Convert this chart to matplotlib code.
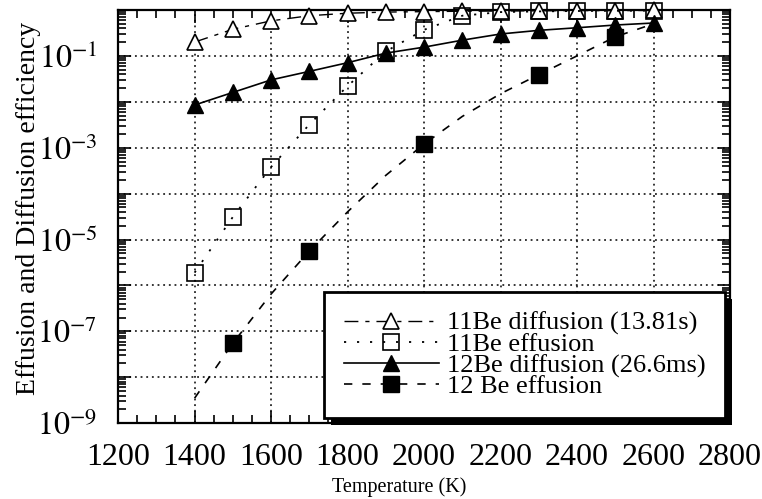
import numpy as np
import matplotlib
matplotlib.use("Agg")
import matplotlib.pyplot as plt
import matplotlib.patheffects as pe
from matplotlib.ticker import MultipleLocator, LogLocator, NullFormatter

plt.rcParams['font.family'] = ['Liberation Serif', 'DejaVu Serif']
plt.rcParams['mathtext.fontset'] = 'stix'

# ── data ──────────────────────────────────────────────────────────────────────
temps = [1400, 1500, 1600, 1700, 1800, 1900, 2000, 2100, 2200, 2300, 2400, 2500, 2600]

be11_diffusion = [0.2, 0.38, 0.58, 0.75, 0.85, 0.9, 0.92, 0.94, 0.95, 0.96, 0.97, 0.97, 0.98]
be11_effusion  = [1.9e-6, 3.1e-5, 3.8e-4, 3.2e-3, 0.022, 0.125, 0.37, 0.75, 0.9, 0.93, 0.95, 0.96, 0.97]
be12_diffusion = [0.0085, 0.016, 0.030, 0.046, 0.071, 0.115, 0.155, 0.22, 0.30, 0.36, 0.41, 0.47, 0.52]

# 12Be effusion: curve plus markers at a subset of temperatures
be12_eff_curve_T = [1400, 1500, 1600, 1700, 1800, 1900, 2000, 2100, 2200, 2300, 2400, 2500, 2600]
be12_eff_curve   = [3.5e-9, 5.5e-8, 6.5e-7, 5.6e-6, 4.0e-5, 2.5e-4, 1.2e-3, 4.8e-3, 1.5e-2, 0.039, 0.10, 0.26, 0.50]
be12_eff_T       = [1500, 1700, 2000, 2300, 2500]
be12_eff         = [5.5e-8, 5.6e-6, 1.2e-3, 0.039, 0.26]

legend_labels = ['11Be diffusion (13.81s)', '11Be effusion',
                 '12Be diffusion (26.6ms)', '12 Be effusion']
x_ticks = [1200, 1400, 1600, 1800, 2000, 2200, 2400, 2600, 2800]
y_exps = list(range(-9, 1))

# ── figure ────────────────────────────────────────────────────────────────────
fig = plt.figure(figsize=(7.62, 4.99), dpi=100)
ax = fig.add_axes([0.155, 0.152, 0.803, 0.828])

ax.plot(temps, be11_diffusion, color='black', lw=1.0, dashes=(10, 5, 3, 5),
        marker='^', ms=11, mfc='white', mec='black', mew=1.2,
        label=legend_labels[0], clip_on=False, zorder=4)
ax.plot(temps, be11_effusion, color='black', lw=1.3, dashes=(1.2, 6),
        marker='s', ms=11, mfc='none', mec='black', mew=1.2,
        label=legend_labels[1], clip_on=False, zorder=5)
ax.plot(temps, be12_diffusion, color='black', lw=1.2, linestyle='-',
        marker='^', ms=12, mfc='black', mec='black',
        label=legend_labels[2], clip_on=False, zorder=4)
ax.plot(be12_eff_curve_T, be12_eff_curve, color='black', lw=1.2, dashes=(5, 6),
        zorder=3)
ax.plot(be12_eff_T, be12_eff, linestyle='none',
        marker='s', ms=11, mfc='black', mec='black', zorder=4)
# legend proxy for the 12Be effusion entry (dashed line + filled square)
ax.plot([], [], color='black', lw=1.2, dashes=(5, 6), marker='s', ms=11,
        mfc='black', mec='black', label=legend_labels[3])

ax.set_yscale('log')
ax.set_xlim(1200, 2800)
ax.set_ylim(1e-9, 1e0)

ax.set_xticks(x_ticks)
ax.set_xticklabels([str(t) for t in x_ticks])
ax.xaxis.set_minor_locator(MultipleLocator(50))

ax.set_yticks([10.0 ** e for e in y_exps])
ax.set_yticklabels([f'$10^{{{e}}}$' if e % 2 else '' for e in y_exps])
ax.yaxis.set_minor_locator(LogLocator(base=10, subs=np.arange(2, 10), numticks=20))
ax.yaxis.set_minor_formatter(NullFormatter())

ax.tick_params(which='both', direction='in', top=True, right=True,
               labelsize=23, colors='black', width=1.2)
ax.tick_params(which='major', length=9)
ax.tick_params(which='minor', length=6)
ax.tick_params(axis='x', which='major', pad=14)
ax.tick_params(axis='y', which='major', pad=15)

ax.grid(True, which='major', color='black', linestyle=(0, (1.2, 2.5)), linewidth=1.1)
for sp in ax.spines.values():
    sp.set_linewidth(1.6)

ax.set_xlabel('Temperature (K)', fontsize=14.5, labelpad=4)
ax.set_ylabel('Effusion and Diffusion efficiency', fontsize=20, labelpad=-3)
ax.xaxis.label.set_x(0.46)
ax.yaxis.label.set_y(0.52)

leg = ax.legend(loc='lower right', bbox_to_anchor=(0.992, 0.012),
                fontsize=19, frameon=True, fancybox=False, framealpha=1.0,
                handlelength=3.6, borderaxespad=0.0, labelspacing=-0.1,
                handletextpad=0.3, borderpad=0.75)
frame = leg.get_frame()
frame.set_facecolor('white')
frame.set_edgecolor('black')
frame.set_linewidth(2.0)
frame.set_path_effects([pe.SimplePatchShadow(offset=(5, -5), shadow_rgbFace='black',
                                             alpha=1.0),
                        pe.Normal()])

fig.savefig('out.png', dpi=100)
